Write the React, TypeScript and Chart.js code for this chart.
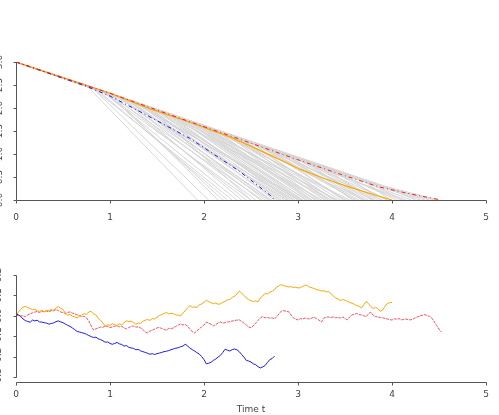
import React, { useEffect, useRef } from "react";
import { Chart, registerables } from "chart.js";
Chart.register(...registerables);

// ---------- axes / labels ----------
const xTicks = [0, 1, 2, 3, 4, 5];
const topYTicks = [0, 0.5, 1, 1.5, 2, 2.5, 3];
const bottomYTicks = [-0.3, -0.2, -0.1, 0, 0.1, 0.2];
const xTitle = "Time t";
const startLevel = 3;

// ---------- top panel: highlighted paths ----------
const orangeTopT = [0, 1.0, 1.43, 1.85, 2.3, 2.7, 3.02, 3.3, 3.55, 3.8, 4.0];
const orangeTopY = [3, 2.32, 1.98, 1.69, 1.35, 0.98, 0.67, 0.45, 0.28, 0.12, 0];
const redTopT = [0, 1.0, 1.85, 2.3, 2.7, 3.02, 3.45, 3.87, 4.2, 4.52];
const redTopY = [3, 2.32, 1.7, 1.38, 1.09, 0.86, 0.56, 0.28, 0.13, 0];
const blueTopT = [0, 0.75, 1.0, 1.32, 1.85, 2.38, 2.7, 2.75];
const blueTopY = [3, 2.47, 2.26, 1.92, 1.34, 0.62, 0.11, 0];

// ---------- top panel: grey paths (break time, break level, time hitting zero) ----------
const greyBreakT = [0.75, 0.85, 0.9, 1.0, 1.1, 1.2, 1.3, 1.2, 1.4, 1.5, 1.3, 1.6, 1.5, 1.7, 1.4, 1.8, 1.6, 1.9, 2.0, 1.7, 2.2, 1.8, 2.0, 2.4, 2.2, 1.9, 2.4, 2.6, 2.0, 2.8, 2.6, 2.2, 3.0, 2.8, 3.2, 2.4, 3.0, 3.4, 3.2, 2.6, 3.6, 3.4, 3.0, 3.6, 3.8, 0.8, 1.0, 1.1, 1.4,
  0.8, 0.9, 0.95, 1.05, 1.15, 1.25, 1.35, 1.45, 1.55, 1.65, 1.75, 1.85, 1.95, 2.1, 2.3, 2.5, 2.7, 2.9, 3.1, 3.3, 3.5, 3.7, 3.9, 4.1, 1.0, 1.2, 1.5, 1.8, 2.1, 2.5, 2.9, 3.3, 3.7, 1.1, 1.3, 1.6, 2.3, 2.7, 3.1, 0.95];
const greyBreakY = [2.49, 2.42, 2.39, 2.32, 2.25, 2.18, 2.11, 2.18, 2.04, 1.97, 2.11, 1.9, 1.97, 1.83, 2.04, 1.76, 1.9, 1.69, 1.62, 1.83, 1.47, 1.76, 1.62, 1.32, 1.47, 1.69, 1.32, 1.17, 1.62, 1.02, 1.17, 1.47, 0.88, 1.02, 0.74, 1.32, 0.88, 0.61, 0.74, 1.17, 0.48, 0.61, 0.88, 0.48, 0.36, 2.46, 2.32, 2.25, 2.04,
  2.46, 2.39, 2.35, 2.29, 2.22, 2.15, 2.08, 2.01, 1.94, 1.87, 1.8, 1.72, 1.65, 1.55, 1.4, 1.25, 1.1, 0.95, 0.81, 0.68, 0.55, 0.42, 0.3, 0.18, 2.32, 2.18, 1.97, 1.76, 1.55, 1.25, 0.95, 0.68, 0.42, 2.25, 2.11, 1.9, 1.4, 1.1, 0.81, 2.35];
const greyEndT = [1.93, 2.25, 2.35, 2.45, 2.55, 2.6, 2.65, 2.7, 2.75, 2.8, 2.85, 2.9, 2.95, 3.0, 3.02, 3.05, 3.1, 3.12, 3.15, 3.2, 3.22, 3.25, 3.3, 3.32, 3.35, 3.4, 3.45, 3.5, 3.55, 3.6, 3.65, 3.7, 3.75, 3.8, 3.85, 3.9, 3.95, 4.05, 4.1, 4.15, 4.2, 4.3, 4.35, 4.4, 4.5, 2.05, 2.15, 2.4, 2.5,
  2.3, 2.5, 2.62, 2.68, 2.72, 2.78, 2.82, 2.88, 2.92, 2.97, 3.03, 3.08, 3.14, 3.18, 3.28, 3.38, 3.48, 3.58, 3.68, 3.78, 3.88, 3.98, 4.25, 4.45, 2.95, 3.05, 3.25, 3.42, 3.52, 3.62, 3.72, 3.95, 4.12, 2.88, 3.0, 3.35, 3.4, 3.7, 3.82, 2.2];

// ---------- bottom panel (values sampled every botStep in time) ----------
const botStep = 0.025;
const orangeBotV = [0, 0.018, 0.032, 0.042, 0.046, 0.04, 0.036, 0.03, 0.033, 0.024, 0.021, 0.026, 0.02, 0.027, 0.024, 0.031, 0.026, 0.037, 0.046, 0.036,
  0.031, 0.012, 0.002, 0.007, -0.002, -0.006, -0.011, -0.003, 0.004, 0.01, 0.007, 0.019, 0.021, 0.01, 0.004, -0.012, -0.022, -0.036, -0.051, -0.044,
  -0.047, -0.038, -0.044, -0.047, -0.04, -0.044, -0.034, -0.024, -0.029, -0.026, -0.033, -0.041, -0.036, -0.038, -0.027, -0.022, -0.018, -0.023, -0.014, -0.016,
  -0.006, 0.001, 0.006, 0.011, 0.016, 0.009, 0.013, 0.01, 0.004, 0.003, -0.001, 0.014, 0.024, 0.039, 0.05, 0.041, 0.044, 0.04, 0.054, 0.058,
  0.066, 0.076, 0.07, 0.064, 0.059, 0.063, 0.056, 0.059, 0.066, 0.071, 0.078, 0.08, 0.09, 0.096, 0.106, 0.121, 0.111, 0.1, 0.087, 0.079,
  0.074, 0.07, 0.073, 0.068, 0.088, 0.097, 0.11, 0.107, 0.116, 0.12, 0.128, 0.141, 0.148, 0.153, 0.147, 0.144, 0.141, 0.143, 0.139, 0.14,
  0.136, 0.138, 0.144, 0.151, 0.148, 0.14, 0.137, 0.133, 0.128, 0.126, 0.121, 0.123, 0.117, 0.119, 0.109, 0.098, 0.088, 0.083, 0.074, 0.08,
  0.076, 0.071, 0.066, 0.061, 0.056, 0.05, 0.046, 0.038, 0.054, 0.07, 0.06, 0.045, 0.035, 0.042, 0.034, 0.022, 0.028, 0.046, 0.06, 0.064,
  0.065];
const redBotV = [0, 0.003, -0.002, 0.001, -0.005, 0.004, 0.01, 0.014, 0.018, 0.021, 0.016, 0.022, 0.019, 0.023, 0.02, 0.025, 0.024, 0.031, 0.025, 0.019,
  0.015, 0.011, 0.016, 0.019, 0.013, 0.01, 0.004, 0.001, -0.004, -0.003, -0.011, -0.026, -0.05, -0.07, -0.064, -0.06, -0.055, -0.057, -0.049, -0.053,
  -0.058, -0.055, -0.051, -0.049, -0.054, -0.052, -0.059, -0.065, -0.058, -0.052, -0.05, -0.056, -0.054, -0.06, -0.068, -0.08, -0.084, -0.075, -0.071, -0.065,
  -0.06, -0.057, -0.063, -0.066, -0.071, -0.062, -0.064, -0.059, -0.052, -0.046, -0.04, -0.045, -0.043, -0.051, -0.064, -0.078, -0.084, -0.074, -0.063, -0.055,
  -0.045, -0.031, -0.036, -0.042, -0.05, -0.043, -0.036, -0.03, -0.036, -0.034, -0.031, -0.028, -0.026, -0.024, -0.021, -0.02, -0.028, -0.036, -0.045, -0.055,
  -0.059, -0.05, -0.036, -0.022, -0.011, -0.004, -0.01, -0.008, -0.012, -0.01, -0.016, -0.004, 0.01, 0.024, 0.025, 0.022, 0.02, 0.004, -0.01, -0.016,
  -0.021, -0.014, -0.016, -0.011, -0.014, -0.016, -0.01, -0.008, -0.015, -0.022, -0.03, -0.012, -0.007, -0.006, -0.009, -0.005, -0.01, -0.008, -0.011, -0.006,
  -0.014, -0.02, -0.006, 0.004, 0.008, 0.011, 0.006, 0.004, 0.0, -0.005, 0.01, 0.018, 0.002, -0.004, -0.006, -0.009, -0.01, -0.013, -0.016, -0.019,
  -0.021, -0.015, -0.017, -0.014, -0.02, -0.018, -0.016, -0.019, -0.02, -0.016, -0.009, -0.005, 0.0, 0.003, 0.006, 0.001, -0.003, -0.012, -0.03, -0.048,
  -0.065, -0.08];
const blueBotV = [0.01, 0.004, -0.003, -0.016, -0.024, -0.028, -0.032, -0.021, -0.025, -0.022, -0.03, -0.031, -0.034, -0.036, -0.041, -0.038, -0.035, -0.029, -0.025, -0.03,
  -0.034, -0.041, -0.047, -0.052, -0.06, -0.068, -0.077, -0.08, -0.083, -0.086, -0.091, -0.097, -0.102, -0.107, -0.105, -0.113, -0.117, -0.123, -0.13, -0.128,
  -0.136, -0.14, -0.136, -0.131, -0.138, -0.141, -0.149, -0.146, -0.155, -0.158, -0.16, -0.167, -0.165, -0.172, -0.176, -0.18, -0.184, -0.189, -0.186, -0.19,
  -0.186, -0.183, -0.18, -0.176, -0.174, -0.171, -0.166, -0.163, -0.159, -0.157, -0.152, -0.149, -0.14, -0.147, -0.159, -0.166, -0.173, -0.181, -0.188, -0.2,
  -0.215, -0.236, -0.233, -0.228, -0.219, -0.212, -0.203, -0.194, -0.18, -0.164, -0.169, -0.173, -0.166, -0.163, -0.167, -0.176, -0.19, -0.203, -0.219, -0.222,
  -0.227, -0.236, -0.24, -0.25, -0.256, -0.251, -0.244, -0.229, -0.215, -0.21, -0.198];

// ---------- styling ----------
const axisColor = "#555555";
const textColor = "#444444";
const greyColor = "#d6d6d6";
const orangeColor = "#FFA500";
const redColor = "#FF1A1A";
const blueColor = "#1A1AEE";
const fontFamily = "'DejaVu Sans', Verdana, sans-serif";

const zip = (ts: number[], vs: number[]) => ts.map((t, i) => ({ x: t, y: vs[i] }));
const onGrid = (vs: number[]) => vs.map((v, i) => ({ x: i * botStep, y: v }));

const rAxesPlugin = {
  id: "rAxes",
  afterDatasetsDraw(chart: any) {
    const { ctx, chartArea } = chart;
    const xs = chart.scales.x;
    const ys = chart.scales.y;
    const xt = xs.ticks.map((t: any) => Math.round(xs.getPixelForValue(t.value)) + 0.5);
    const yt = ys.ticks.map((t: any) => Math.round(ys.getPixelForValue(t.value)) + 0.5);
    const by = Math.round(chartArea.bottom) + 0.5;
    const lx = Math.round(chartArea.left) + 0.5;
    ctx.save();
    ctx.strokeStyle = axisColor;
    ctx.lineWidth = 1;
    ctx.beginPath();
    ctx.moveTo(Math.min(...xt), by);
    ctx.lineTo(Math.max(...xt), by);
    xt.forEach((px: number) => {
      ctx.moveTo(px, by);
      ctx.lineTo(px, by + 3);
    });
    ctx.moveTo(lx, Math.min(...yt));
    ctx.lineTo(lx, Math.max(...yt));
    yt.forEach((py: number) => {
      ctx.moveTo(lx, py);
      ctx.lineTo(lx - 3, py);
    });
    ctx.stroke();
    ctx.restore();
  },
};

function scaleX(labelPad: number, height: number, title: boolean) {
  return {
    type: "linear",
    min: 0,
    max: 5,
    afterBuildTicks: (axis: any) => {
      axis.ticks = xTicks.map((v) => ({ value: v }));
    },
    afterFit: (axis: any) => {
      axis.height = height;
    },
    grid: { display: false, drawTicks: true, tickLength: 4 },
    border: { display: false },
    ticks: {
      color: textColor,
      font: { family: fontFamily, size: 9 },
      padding: labelPad,
      maxRotation: 0,
      minRotation: 0,
      callback: (v: any) => String(v),
    },
    title: {
      display: title,
      text: xTitle,
      color: textColor,
      font: { family: fontFamily, size: 9 },
      padding: { top: 0, bottom: 0 },
    },
  };
}

function scaleY(min: number, max: number, ticks: number[]) {
  return {
    type: "linear",
    min,
    max,
    afterBuildTicks: (axis: any) => {
      axis.ticks = ticks.map((v) => ({ value: v }));
    },
    afterFit: (axis: any) => {
      axis.width = 16;
    },
    grid: { display: false, drawTicks: true, tickLength: 4 },
    border: { display: false },
    ticks: {
      color: textColor,
      font: { family: fontFamily, size: 9 },
      padding: 5,
      minRotation: 90,
      maxRotation: 90,
      crossAlign: "center",
      callback: (v: any) => Number(v).toFixed(1),
    },
  };
}

function TopChart() {
  const ref = useRef<HTMLCanvasElement>(null);
  useEffect(() => {
    const greyDatasets = greyEndT.map((te, i) => ({
      data: [
        { x: 0, y: startLevel },
        { x: greyBreakT[i], y: greyBreakY[i] },
        { x: te, y: 0 },
      ],
      borderColor: greyColor,
      borderWidth: 1,
      pointRadius: 0,
      order: 2,
    }));
    const chart = new Chart(ref.current as HTMLCanvasElement, {
      type: "line",
      data: {
        datasets: [
          { data: zip(redTopT, redTopY), borderColor: redColor, borderWidth: 1, borderDash: [4, 3, 1, 3], pointRadius: 0, order: 0 },
          { data: zip(blueTopT, blueTopY), borderColor: blueColor, borderWidth: 1, borderDash: [4, 3, 1, 3], pointRadius: 0, order: 0 },
          { data: zip(orangeTopT, orangeTopY), borderColor: orangeColor, borderWidth: 1.2, pointRadius: 0, order: 1 },
          ...greyDatasets,
        ] as any,
      },
      options: {
        animation: false,
        responsive: false,
        devicePixelRatio: 1,
        layout: { padding: { left: 0, right: 13, top: 62, bottom: 0 } },
        plugins: { legend: { display: false }, tooltip: { enabled: false } },
        elements: { line: { tension: 0, fill: false } },
        scales: {
          x: scaleX(8, 40, false),
          y: scaleY(0, 3, topYTicks),
        } as any,
      },
      plugins: [rAxesPlugin],
    });
    return () => chart.destroy();
  }, []);
  return <canvas ref={ref} width={499} height={240} style={{ display: "block", width: 499, height: 240 }} />;
}

function BottomChart() {
  const ref = useRef<HTMLCanvasElement>(null);
  useEffect(() => {
    const chart = new Chart(ref.current as HTMLCanvasElement, {
      type: "line",
      data: {
        datasets: [
          { data: onGrid(blueBotV), borderColor: blueColor, borderWidth: 1, pointRadius: 0 },
          { data: onGrid(orangeBotV), borderColor: orangeColor, borderWidth: 1, pointRadius: 0 },
          { data: onGrid(redBotV), borderColor: "rgba(240,50,70,0.85)", borderWidth: 1, borderDash: [3, 1], pointRadius: 0 },
        ] as any,
      },
      options: {
        animation: false,
        responsive: false,
        devicePixelRatio: 1,
        layout: { padding: { left: 0, right: 13, top: 35, bottom: 0 } },
        plugins: { legend: { display: false }, tooltip: { enabled: false } },
        elements: { line: { tension: 0, fill: false } },
        scales: {
          x: scaleX(3, 33, true),
          y: scaleY(-0.325, 0.2, bottomYTicks),
        } as any,
      },
      plugins: [rAxesPlugin],
    });
    return () => chart.destroy();
  }, []);
  return <canvas ref={ref} width={499} height={175} style={{ display: "block", width: 499, height: 175 }} />;
}

export default function App() {
  return (
    <div style={{ position: "fixed", left: 0, top: 0, width: 499, height: 415, background: "#ffffff", overflow: "hidden" }}>
      <TopChart />
      <BottomChart />
    </div>
  );
}
